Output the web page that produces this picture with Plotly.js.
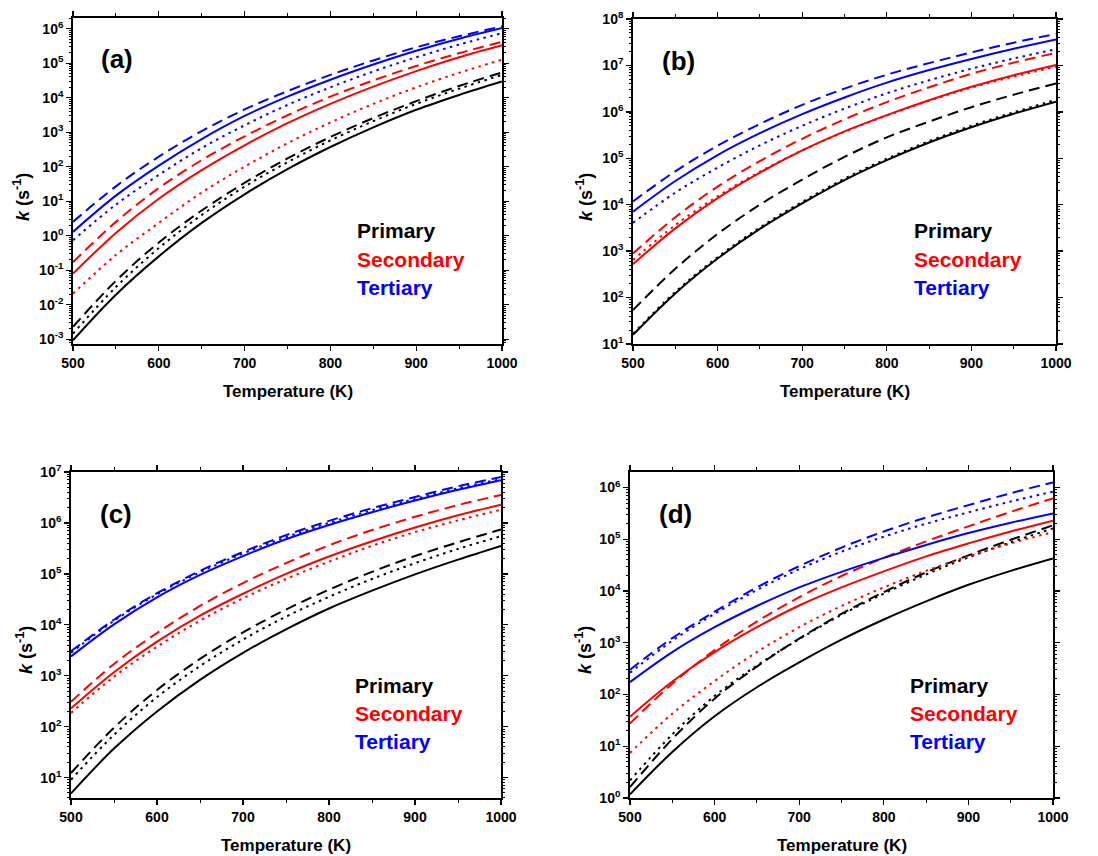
<!DOCTYPE html>
<html>
<head>
<meta charset="utf-8">
<script src="https://cdn.plot.ly/plotly-3.0.1.min.js"></script>
<style>html,body{margin:0;padding:0;background:#fff}#chart{width:1098px;height:856px}</style>
</head>
<body>
<div id="chart"></div>
<script>
// Temperature grid (K)
const T = [500, 550, 600, 650, 700, 750, 800, 850, 900, 950, 1000];

// Values, stored as log10(k / s^-1)
// Panel (a)
const a_pri_solid = [-3.03, -1.71, -0.60, 0.37, 1.20, 1.93, 2.57, 3.14, 3.65, 4.08, 4.47];
const a_pri_dash  = [-2.64, -1.31, -0.20, 0.73, 1.53, 2.24, 2.86, 3.41, 3.90, 4.34, 4.73];
const a_pri_dot   = [-2.84, -1.49, -0.36, 0.60, 1.42, 2.13, 2.76, 3.32, 3.82, 4.26, 4.66];
const a_sec_solid = [-1.10, 0.08, 1.07, 1.90, 2.62, 3.26, 3.82, 4.32, 4.77, 5.17, 5.52];
const a_sec_dash  = [-0.77, 0.40, 1.38, 2.19, 2.88, 3.49, 4.03, 4.50, 4.92, 5.29, 5.62];
const a_sec_dot   = [-1.68, -0.56, 0.37, 1.25, 2.00, 2.68, 3.28, 3.82, 4.30, 4.72, 5.10];
const a_ter_solid = [0.11, 1.16, 2.03, 2.80, 3.47, 4.03, 4.52, 4.96, 5.36, 5.71, 6.02];
const a_ter_dash  = [0.40, 1.43, 2.29, 3.03, 3.66, 4.19, 4.66, 5.08, 5.46, 5.78, 6.07];
const a_ter_dot   = [-0.13, 0.90, 1.76, 2.54, 3.20, 3.79, 4.30, 4.76, 5.17, 5.54, 5.87];

// Panel (b)
const b_pri_solid = [1.20, 2.09, 2.84, 3.48, 4.03, 4.53, 4.96, 5.34, 5.67, 5.96, 6.22];
const b_pri_dash  = [1.73, 2.62, 3.37, 4.00, 4.54, 5.03, 5.45, 5.79, 6.10, 6.37, 6.61];
const b_pri_dot   = [1.22, 2.12, 2.87, 3.51, 4.06, 4.56, 4.99, 5.37, 5.70, 5.99, 6.26];
const b_sec_solid = [2.72, 3.49, 4.14, 4.69, 5.17, 5.58, 5.93, 6.25, 6.54, 6.79, 7.01];
const b_sec_dash  = [2.95, 3.73, 4.39, 4.94, 5.42, 5.84, 6.21, 6.53, 6.82, 7.06, 7.27];
const b_sec_dot   = [2.81, 3.56, 4.18, 4.71, 5.17, 5.57, 5.92, 6.24, 6.52, 6.76, 6.97];
const b_ter_solid = [3.85, 4.51, 5.07, 5.54, 5.95, 6.31, 6.63, 6.90, 7.14, 7.36, 7.56];
const b_ter_dash  = [4.07, 4.72, 5.27, 5.74, 6.15, 6.50, 6.80, 7.05, 7.28, 7.49, 7.68];
const b_ter_dot   = [3.61, 4.26, 4.80, 5.28, 5.70, 6.07, 6.40, 6.68, 6.93, 7.15, 7.35];

// Panel (c)
const c_pri_solid = [0.69, 1.57, 2.30, 2.92, 3.45, 3.91, 4.32, 4.67, 4.99, 5.28, 5.55];
const c_pri_dash  = [1.09, 1.98, 2.72, 3.33, 3.85, 4.30, 4.69, 5.04, 5.35, 5.62, 5.87];
const c_pri_dot   = [0.96, 1.84, 2.58, 3.19, 3.71, 4.16, 4.55, 4.90, 5.21, 5.49, 5.74];
const c_sec_solid = [2.36, 3.07, 3.67, 4.18, 4.61, 5.00, 5.34, 5.64, 5.91, 6.15, 6.36];
const c_sec_dash  = [2.49, 3.23, 3.84, 4.37, 4.82, 5.21, 5.56, 5.86, 6.12, 6.35, 6.55];
const c_sec_dot   = [2.27, 2.98, 3.57, 4.08, 4.52, 4.90, 5.24, 5.55, 5.82, 6.05, 6.26];
const c_ter_solid = [3.38, 4.01, 4.54, 4.98, 5.35, 5.68, 5.96, 6.21, 6.44, 6.65, 6.84];
const c_ter_dash  = [3.48, 4.10, 4.62, 5.06, 5.43, 5.76, 6.04, 6.29, 6.51, 6.72, 6.90];
const c_ter_dot   = [3.45, 4.08, 4.60, 5.03, 5.40, 5.72, 6.00, 6.25, 6.47, 6.68, 6.86];

// Panel (d)
const d_pri_solid = [0.07, 0.89, 1.58, 2.14, 2.62, 3.06, 3.45, 3.80, 4.12, 4.39, 4.63];
const d_pri_dash  = [0.21, 1.14, 1.92, 2.54, 3.08, 3.56, 3.98, 4.36, 4.69, 4.99, 5.27];
const d_pri_dot   = [0.34, 1.23, 1.97, 2.56, 3.07, 3.54, 3.95, 4.32, 4.65, 4.94, 5.21];
const d_sec_solid = [1.57, 2.25, 2.82, 3.30, 3.72, 4.07, 4.38, 4.67, 4.92, 5.15, 5.36];
const d_sec_dash  = [1.44, 2.21, 2.86, 3.41, 3.88, 4.29, 4.64, 4.96, 5.25, 5.53, 5.79];
const d_sec_dot   = [0.87, 1.63, 2.26, 2.82, 3.30, 3.71, 4.07, 4.39, 4.67, 4.92, 5.14];
const d_ter_solid = [2.24, 2.82, 3.30, 3.71, 4.07, 4.37, 4.64, 4.89, 5.12, 5.32, 5.50];
const d_ter_dash  = [2.48, 3.09, 3.60, 4.07, 4.48, 4.84, 5.15, 5.42, 5.66, 5.89, 6.10];
const d_ter_dot   = [2.42, 3.04, 3.56, 4.02, 4.42, 4.76, 5.05, 5.30, 5.52, 5.73, 5.92];

// Tick labels
const xTickVals = [500, 600, 700, 800, 900, 1000];
const xTickText = ['500', '600', '700', '800', '900', '1000'];
const a_yExp = [-3, -2, -1, 0, 1, 2, 3, 4, 5, 6];
const b_yExp = [1, 2, 3, 4, 5, 6, 7, 8];
const c_yExp = [1, 2, 3, 4, 5, 6, 7];
const d_yExp = [0, 1, 2, 3, 4, 5, 6];

const panelLabels = ['(a)', '(b)', '(c)', '(d)'];
const classNames = ['Primary', 'Secondary', 'Tertiary'];

// ---------------- layout geometry (pixels) ----------------
const W = 1098, H = 856;
const FONT = 'Arial, "Liberation Sans", sans-serif';
const px = v => v / W;
const py = v => 1 - v / H;

const panels = [
  {box: [73, 502, 18, 344], yr: [-3.14, 6.31], exps: a_yExp,
   data: [[a_pri_solid, a_pri_dash, a_pri_dot], [a_sec_solid, a_sec_dash, a_sec_dot], [a_ter_solid, a_ter_dash, a_ter_dot]],
   lab: [117, 59], leg: [355, 231], xt: 392, yt: [21, 197]},
  {box: [633, 1056, 19, 344], yr: [1, 8], exps: b_yExp,
   data: [[b_pri_solid, b_pri_dash, b_pri_dot], [b_sec_solid, b_sec_dash, b_sec_dot], [b_ter_solid, b_ter_dash, b_ter_dot]],
   lab: [678, 61], leg: [912, 231], xt: 392, yt: [584, 197]},
  {box: [71, 501, 472, 798], yr: [0.6, 7.0], exps: c_yExp,
   data: [[c_pri_solid, c_pri_dash, c_pri_dot], [c_sec_solid, c_sec_dash, c_sec_dot], [c_ter_solid, c_ter_dash, c_ter_dot]],
   lab: [116, 514], leg: [353, 685], xt: 845, yt: [24, 650]},
  {box: [630, 1053, 472, 798], yr: [0, 6.3], exps: d_yExp,
   data: [[d_pri_solid, d_pri_dash, d_pri_dot], [d_sec_solid, d_sec_dash, d_sec_dot], [d_ter_solid, d_ter_dash, d_ter_dot]],
   lab: [675, 514], leg: [908, 685], xt: 845, yt: [583, 650]}
];

const colors = ['#000000', '#ff0000', '#0000ff'];
const dashes = ['solid', '11px,6px', '2.5px,4.5px'];

const traces = [];
const layout = {
  width: W, height: H,
  margin: {l: 0, r: 0, t: 0, b: 0},
  paper_bgcolor: '#ffffff', plot_bgcolor: '#ffffff',
  showlegend: false,
  font: {family: FONT, color: '#000'},
  annotations: []
};

panels.forEach((p, i) => {
  const n = i === 0 ? '' : String(i + 1);
  const xa = 'x' + n, ya = 'y' + n;
  p.data.forEach((cls, ci) => {
    cls.forEach((series, si) => {
      traces.push({
        x: T, y: series.map(v => Math.pow(10, v)), xaxis: xa, yaxis: ya, type: 'scatter', mode: 'lines',
        line: {color: colors[ci], width: 2, dash: dashes[si], shape: 'spline', smoothing: 1},
        hoverinfo: 'skip'
      });
    });
  });

  const minorVals = [];
  for (let e = Math.floor(p.yr[0]); e < Math.ceil(p.yr[1]); e++) {
    for (let m = 2; m <= 9; m++) minorVals.push(m * Math.pow(10, e));
  }

  layout['xaxis' + n] = {
    domain: [px(p.box[0]), px(p.box[1])], anchor: ya,
    range: [500, 1000], tickmode: 'array', tickvals: xTickVals, ticktext: xTickText,
    ticks: 'outside', ticklen: 5, tickwidth: 1.3, tickcolor: '#000',
    minor: {tickmode: 'linear', tick0: 550, dtick: 100, ticks: 'outside', ticklen: 3, tickwidth: 1, tickcolor: '#000'},
    showline: true, linecolor: '#000', linewidth: 1.8, mirror: 'allticks',
    showgrid: false, zeroline: false,
    tickfont: {family: FONT, size: 14, color: '#000', weight: 'bold'}
  };
  layout['yaxis' + n] = {
    domain: [py(p.box[3]), py(p.box[2])], anchor: xa,
    type: 'log', range: p.yr,
    tickmode: 'array',
    tickvals: p.exps.map(e => Math.pow(10, e)),
    ticktext: p.exps.map(e => '10<sup>' + e + '</sup>'),
    ticks: 'outside', ticklen: 5, tickwidth: 1.3, tickcolor: '#000',
    minor: {tickmode: 'array', tickvals: minorVals, ticks: 'outside', ticklen: 2.5, tickwidth: 1, tickcolor: '#000'},
    showline: true, linecolor: '#000', linewidth: 1.8, mirror: 'allticks',
    showgrid: false, zeroline: false,
    tickfont: {family: FONT, size: 14, color: '#000', weight: 'bold'}
  };

  layout.annotations.push({
    xref: 'paper', yref: 'paper', x: px(p.lab[0]), y: py(p.lab[1]),
    xanchor: 'center', yanchor: 'middle', showarrow: false,
    text: '<b>' + panelLabels[i] + '</b>',
    font: {family: FONT, size: 26, color: '#000'}
  });
  classNames.forEach((name, ci) => {
    layout.annotations.push({
      xref: 'paper', yref: 'paper', x: px(p.leg[0]), y: py(p.leg[1] + ci * 28),
      xanchor: 'left', yanchor: 'middle', showarrow: false,
      text: '<b>' + name + '</b>',
      font: {family: FONT, size: 21, color: colors[ci]}
    });
  });
  layout.annotations.push({
    xref: 'paper', yref: 'paper', x: px((p.box[0] + p.box[1]) / 2), y: py(p.xt),
    xanchor: 'center', yanchor: 'middle', showarrow: false,
    text: '<b>Temperature (K)</b>',
    font: {family: FONT, size: 17, color: '#000'}
  });
  layout.annotations.push({
    xref: 'paper', yref: 'paper', x: px(p.yt[0]), y: py(p.yt[1]),
    xanchor: 'center', yanchor: 'middle', showarrow: false, textangle: -90,
    text: '<b><i>k</i> (s<sup>-1</sup>)</b>',
    font: {family: FONT, size: 18, color: '#000'}
  });
});

Plotly.newPlot('chart', traces, layout, {staticPlot: true, displayModeBar: false});
</script>
</body>
</html>
